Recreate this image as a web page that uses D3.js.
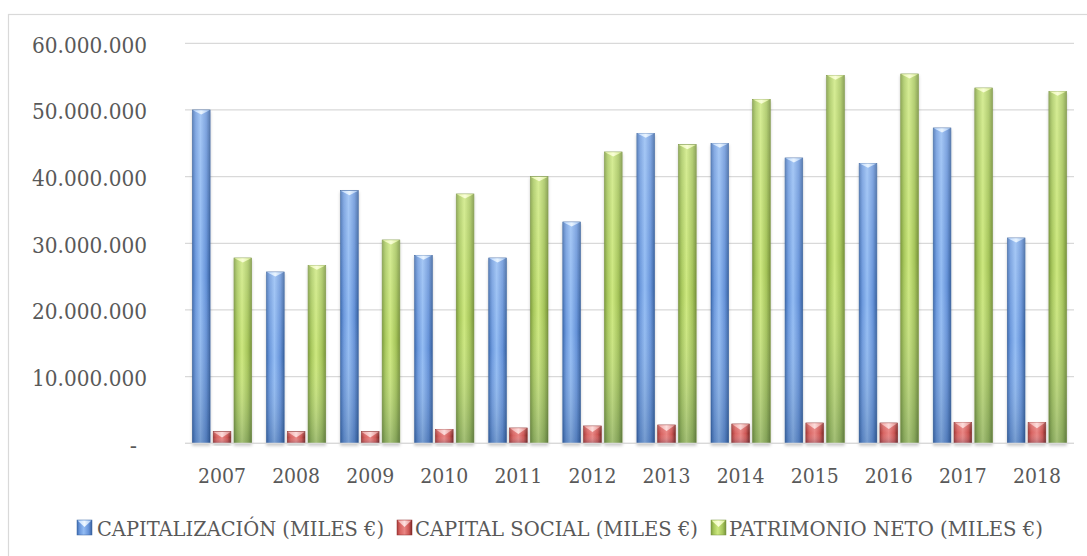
<!DOCTYPE html>
<html>
<head>
<meta charset="utf-8">
<script src="https://cdn.jsdelivr.net/npm/d3@7"></script>
<style>
  html, body { margin: 0; padding: 0; background: #fff; }
  svg { display: block; }
</style>
</head>
<body>
<svg id="chart" width="1087" height="556"></svg>
<script>
// ---- data ----
const years = ["2007","2008","2009","2010","2011","2012","2013","2014","2015","2016","2017","2018"];
const seriesNames = ["CAPITALIZACIÓN (MILES €)", "CAPITAL SOCIAL (MILES €)", "PATRIMONIO NETO (MILES €)"];
const capitalizacion = [50000000, 25700000, 37900000, 28200000, 27800000, 33200000, 46500000, 45000000, 42800000, 42000000, 47300000, 30800000];
const capitalSocial  = [1750000, 1750000, 1750000, 2100000, 2300000, 2600000, 2750000, 2900000, 3050000, 3050000, 3150000, 3150000];
const patrimonioNeto = [27800000, 26700000, 30500000, 37400000, 40000000, 43700000, 44800000, 51600000, 55200000, 55400000, 53300000, 52800000];
const yTicks = [0, 10000000, 20000000, 30000000, 40000000, 50000000, 60000000];

const seriesValues = [capitalizacion, capitalSocial, patrimonioNeto];
const keys = ["cap", "soc", "pat"];

const svg = d3.select("#chart");
const FONT = "'DejaVu Serif', 'Liberation Serif', serif";

// outer frame (right and bottom edges fall outside the picture)
svg.append("rect").attr("x", 8.5).attr("y", 14.5).attr("width", 1100).attr("height", 560)
  .attr("fill", "#fff").attr("stroke", "#d9d9d9").attr("stroke-width", 1.2);

const plot = { left: 185, right: 1074, top: 43.3, bottom: 443.3 };

const x0 = d3.scaleBand().domain(years).range([plot.left, plot.right]).paddingInner(0.2).paddingOuter(0.1);
const x1 = d3.scaleBand().domain(keys).range([0, x0.bandwidth()]).paddingInner(0.15);
const y = d3.scaleLinear().domain([0, 60000000]).range([plot.bottom, plot.top]);

// ---- defs: gradients ----
const defs = svg.append("defs");
function hGrad(id, stops) {
  const g = defs.append("linearGradient").attr("id", id).attr("x1", "0").attr("x2", "1").attr("y1", "0").attr("y2", "0");
  stops.forEach(s => g.append("stop").attr("offset", s[0]).attr("stop-color", s[1]));
}
function vGrad(id, stops) {
  const g = defs.append("linearGradient").attr("id", id).attr("x1", "0").attr("x2", "0").attr("y1", "0").attr("y2", "1");
  stops.forEach(s => g.append("stop").attr("offset", s[0]).attr("stop-color", s[1][0]).attr("stop-opacity", s[1][1]));
}
hGrad("g-cap", [["0", "#3f6cb0"], ["0.18", "#6b98dc"], ["0.45", "#93bcf3"], ["0.78", "#6592d8"], ["1", "#38619f"]]);
hGrad("g-soc", [["0", "#a83c3a"], ["0.2", "#d86462"], ["0.5", "#e98583"], ["0.8", "#cc5553"], ["1", "#7a2826"]]);
hGrad("g-pat", [["0", "#7e9c3e"], ["0.18", "#a7c75c"], ["0.45", "#cde87f"], ["0.78", "#a5c45a"], ["1", "#77923a"]]);
vGrad("shadeV", [["0", ["#ffffff", 0.18]], ["0.5", ["#ffffff", 0]], ["1", ["#0a2850", 0.22]]]);
hGrad("bev-cap", [["0", "#bcd9ff"], ["0.5", "#eef7ff"], ["1", "#a9c8f2"]]);
hGrad("bev-soc", [["0", "#f0a6a4"], ["0.5", "#fde0df"], ["1", "#e39290"]]);
hGrad("bev-pat", [["0", "#e8f7a8"], ["0.5", "#fbffdc"], ["1", "#dcef98"]]);

const flt = defs.append("filter").attr("id", "shadow").attr("x", "-30%").attr("y", "-10%").attr("width", "160%").attr("height", "130%");
flt.append("feDropShadow").attr("dx", 0).attr("dy", 2).attr("stdDeviation", 1.4).attr("flood-color", "#000").attr("flood-opacity", 0.22);

// ---- gridlines ----
svg.append("g").selectAll("line").data(yTicks).join("line")
  .attr("x1", plot.left).attr("x2", plot.right)
  .attr("y1", d => y(d)).attr("y2", d => y(d))
  .attr("stroke", "#d9d9d9").attr("stroke-width", 1.3);

// ---- y axis labels ----
const fmt = v => v === 0 ? "-" : d3.format(",")(v).replace(/,/g, ".");
const yLab = svg.append("g").selectAll("text").data(yTicks).join("text")
  .attr("x", d => d === 0 ? 137 : 147)
  .attr("y", d => y(d) + 9.5)
  .attr("text-anchor", "end")
  .attr("font-family", FONT).attr("font-size", 21.5).attr("fill", "#595959")
  .text(fmt);
yLab.filter(d => d !== 0).attr("textLength", 115).attr("lengthAdjust", "spacingAndGlyphs");

// ---- bars ----
const edge = { cap: "#3a639e", soc: "#8a2e2c", pat: "#7a9440" };
const groups = svg.append("g").selectAll("g").data(years).join("g")
  .attr("transform", d => `translate(${x0(d)},0)`);

groups.each(function(yr, i) {
  const g = d3.select(this);
  keys.forEach((k, si) => {
    const v = seriesValues[si][i];
    const bx = x1(k), bw = x1.bandwidth();
    const top = y(v), h = y(0) - y(v);
    const bar = g.append("g").attr("filter", "url(#shadow)");
    bar.append("rect").attr("x", bx).attr("y", top).attr("width", bw).attr("height", h)
      .attr("fill", `url(#g-${k})`).attr("stroke", edge[k]).attr("stroke-width", 0.6);
    bar.append("rect").attr("x", bx).attr("y", top).attr("width", bw).attr("height", h)
      .attr("fill", "url(#shadeV)");
    const bd = k === "soc" ? Math.min(6, h * 0.5) : 4.5;
    bar.append("path")
      .attr("d", `M${bx + 0.5},${top + 0.3} L${bx + bw - 0.5},${top + 0.3} L${bx + bw / 2},${top + bd} Z`)
      .attr("fill", `url(#bev-${k})`).attr("opacity", 0.95);
  });
});

// baseline
svg.append("line").attr("x1", plot.left).attr("x2", plot.right)
  .attr("y1", y(0)).attr("y2", y(0)).attr("stroke", "#d9d9d9").attr("stroke-width", 1.3);

// ---- x axis labels ----
svg.append("g").selectAll("text").data(years).join("text")
  .attr("x", d => x0(d) + x0.bandwidth() / 2)
  .attr("y", 482.5)
  .attr("text-anchor", "middle")
  .attr("font-family", FONT).attr("font-size", 20.5).attr("fill", "#595959")
  .attr("textLength", 48).attr("lengthAdjust", "spacingAndGlyphs")
  .text(d => d);

// ---- legend ----
const legendPos = [
  { mx: 77, tx: 97, tw: 287 },
  { mx: 397, tx: 415, tw: 283 },
  { mx: 711, tx: 729, tw: 314 }
];
const lg = svg.append("g");
keys.forEach((k, si) => {
  const p = legendPos[si];
  const m = lg.append("g");
  m.append("rect").attr("x", p.mx).attr("y", 520).attr("width", 15).attr("height", 15)
    .attr("fill", `url(#g-${k})`).attr("stroke", edge[k]).attr("stroke-width", 0.5);
  m.append("path").attr("d", `M${p.mx + 0.5},520.5 L${p.mx + 14.5},520.5 L${p.mx + 7.5},527 Z`)
    .attr("fill", `url(#bev-${k})`);
  lg.append("text").attr("x", p.tx).attr("y", 535.5)
    .attr("font-family", FONT).attr("font-size", 20.5).attr("fill", "#595959")
    .attr("textLength", p.tw).attr("lengthAdjust", "spacingAndGlyphs")
    .text(seriesNames[si]);
});
</script>
</body>
</html>
